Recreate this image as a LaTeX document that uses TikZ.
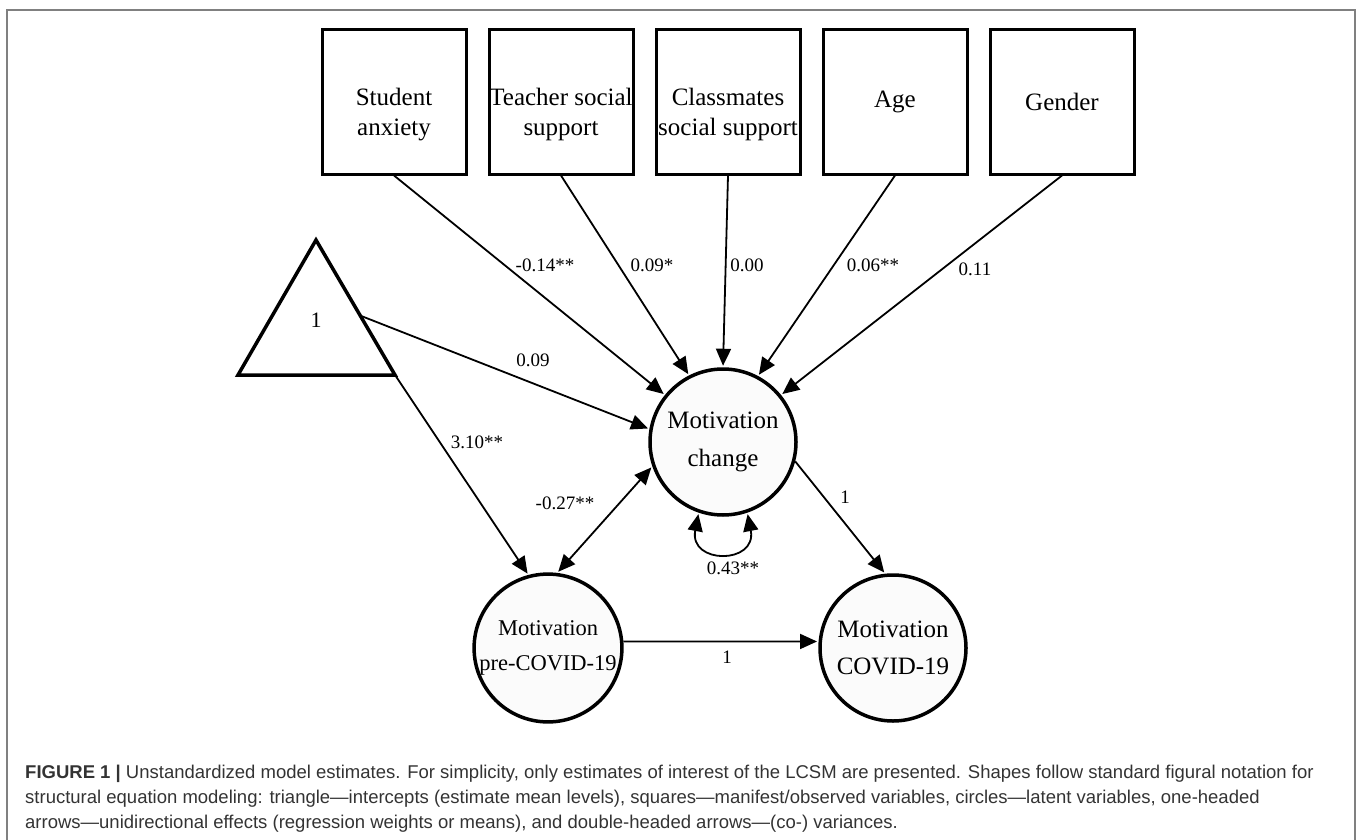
\documentclass[tikz,border=0pt]{standalone}
\usepackage{fontspec}
\setmainfont{Liberation Serif}
\newfontfamily\capfont{Liberation Sans}
\usetikzlibrary{positioning, arrows.meta, calc}
\newcommand{\boxstrut}{\rule{0pt}{43pt}}

\begin{document}
\begin{tikzpicture}[x=1pt, y=-1pt,
    obs/.style={draw, line width=3pt, minimum size=144pt, inner sep=0pt, align=center, font=\fontsize{25}{30}\selectfont},
    lat/.style={draw, circle, line width=3.5pt, fill=gray!3, minimum size=146pt, inner sep=0pt, align=center},
    regr/.style={line width=1.8pt, shorten >=1.5pt, -{Triangle[length=17pt, width=15pt]}},
    covar/.style={line width=1.8pt, shorten >=1.5pt, shorten <=1.5pt, {Triangle[length=17pt, width=15pt]}-{Triangle[length=17pt, width=15pt]}},
    est/.style={font=\fontsize{19}{21}\selectfont, inner sep=1pt},
    capline/.style={anchor=base west, inner sep=0pt, text=black!80, font=\capfont\fontsize{18.5}{25}\selectfont},
  ]
  \useasboundingbox (0,0) rectangle (1357,840);
  \draw[gray, line width=1.5pt] (7,840) -- (7,10) -- (1355,10) -- (1355,840);

  % observed variables
  \node[obs] (anx) at (394,102) {\boxstrut Student\\anxiety};
  \node[obs, right=20pt of anx] (tea) {\boxstrut Teacher social\\support};
  \node[obs, right=20pt of tea] (cla) {\boxstrut Classmates\\social support};
  \node[obs, right=20pt of cla] (age) {Age};
  \node[obs, right=20pt of age] (gen) {Gender};

  % latent variables
  \node[lat, font=\fontsize{25}{38}\selectfont] (chg) at (723,442) {Motivation\\change};
  \node[lat, font=\fontsize{22.5}{35}\selectfont] (pre) at (548,648) {Motivation\\pre-COVID-19};
  \node[lat, font=\fontsize{25}{37}\selectfont] (cov) at (893,648) {Motivation\\COVID-19};

  % intercept
  \coordinate (tA) at (316,240);
  \coordinate (tL) at (238,375);
  \coordinate (tR) at (395,375);
  \draw[line width=3.5pt, line join=miter] (tA) -- (tL) -- (tR) -- cycle;
  \node[font=\fontsize{22}{24}\selectfont] (one) at (316,320) {1};
  \coordinate (tS) at ($(tA)!0.56!(tR)$);

  % paths
  \draw[regr] (anx.south) -- (chg.141);
  \draw[regr] (tea.south) -- (chg.117);
  \draw[regr] (cla.south) -- (chg.90);
  \draw[regr] (age.south) -- (chg.62);
  \draw[regr] (gen.south) -- (chg.39);
  \draw[regr] (tS) -- (chg.170);
  \draw[regr] (tR) -- (pre.105);
  \draw[covar] (pre.83) -- (chg.199);
  \draw[regr] (chg.345) -- (cov.96);
  \draw[regr] (pre.5) -- (cov.175);
  \draw[covar] (chg.251) .. controls +(-10,52) and +(10,52) .. (chg.289);

  % estimates
  \node[est] (e1) at (545,265) {-0.14**};
  \node[est] (e2) at (652,265) {0.09*};
  \node[est] (e3) at (747,265) {0.00};
  \node[est] (e4) at (873,265) {0.06**};
  \node[est] (e5) at (975,269) {0.11};
  \node[est] (e6) at (533,360) {0.09};
  \node[est] (e7) at (477,442) {3.10**};
  \node[est] (e8) at (565,503) {-0.27**};
  \node[est] (e9) at (845,497) {1};
  \node[est] (e10) at (733,568) {0.43**};
  \node[est] (e11) at (727,657) {1};

  % caption
  \node[capline] (c1) at (25,778) {\textbf{FIGURE 1 |} Unstandardized model estimates. For simplicity, only estimates of interest of the LCSM are presented. Shapes follow standard figural notation for};
  \node[capline] (c2) at (25,803) {structural equation modeling: triangle—intercepts (estimate mean levels), squares—manifest/observed variables, circles—latent variables, one-headed};
  \node[capline] (c3) at (25,828) {arrows—unidirectional effects (regression weights or means), and double-headed arrows—(co-) variances.};
\end{tikzpicture}
\end{document}
